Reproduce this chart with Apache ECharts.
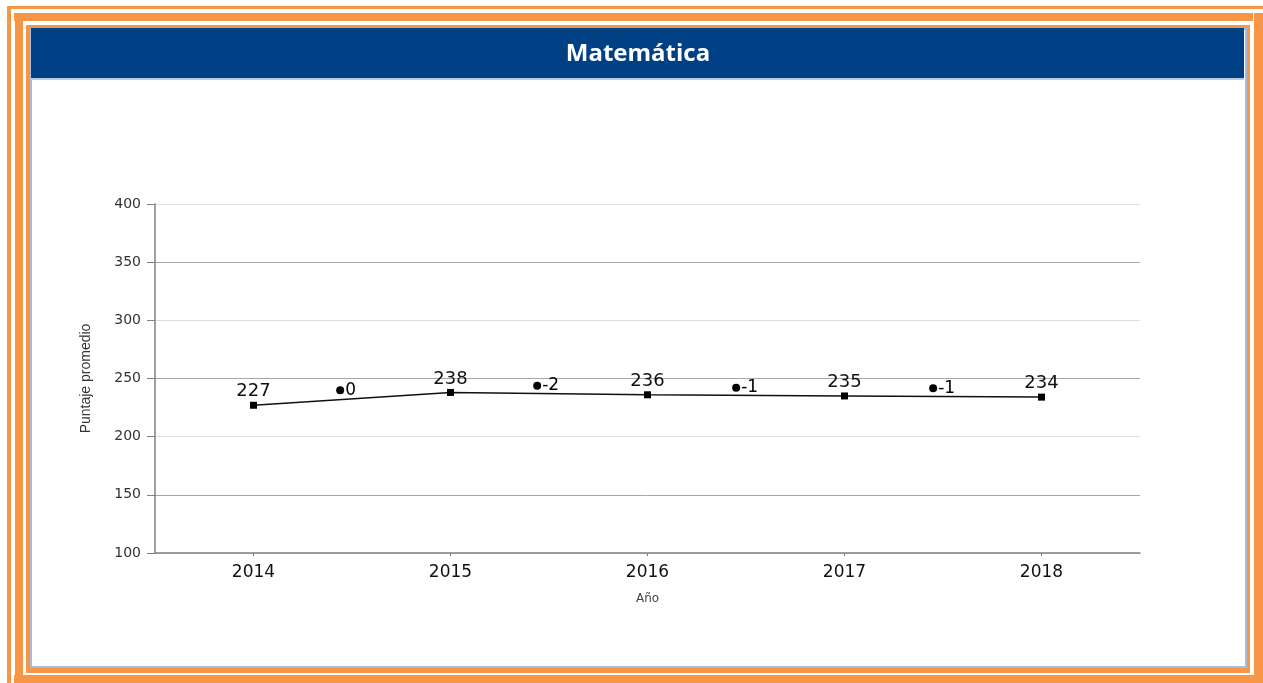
<!DOCTYPE html>
<html>
<head>
<meta charset="utf-8">
<script src="https://cdn.jsdelivr.net/npm/echarts@6/dist/echarts.min.js"></script>
<style>
  html,body{margin:0;padding:0;background:#fff;}
  body{width:1263px;height:683px;position:relative;overflow:hidden;}
  .o{position:absolute;background:#f79646;}
  #panel{position:absolute;left:30px;top:28px;width:1213px;height:636px;border:2px solid #a6bddb;background:#fff;}
  #bar{position:absolute;left:31px;top:28px;width:1213px;height:50px;background:#004185;border-bottom:2px solid #b8cbe4;}
  #chart{position:absolute;left:0;top:0;width:1263px;height:683px;}
</style>
</head>
<body>
<!-- outer thin line -->
<div class="o" style="left:7px;top:6px;width:1256px;height:3px;"></div>
<div class="o" style="left:7px;top:6px;width:4px;height:677px;"></div>
<!-- middle thick frame -->
<div class="o" style="left:14px;top:13px;width:1239px;height:8px;"></div>
<div class="o" style="left:15px;top:13px;width:8px;height:662px;"></div>
<div class="o" style="left:14px;top:675px;width:1249px;height:8px;"></div>
<div class="o" style="left:1254px;top:13px;width:9px;height:670px;"></div>
<!-- inner thin frame -->
<div class="o" style="left:26px;top:25px;width:1223px;height:4px;"></div>
<div class="o" style="left:26px;top:25px;width:4px;height:648px;"></div>
<div class="o" style="left:26px;top:668px;width:1223px;height:5px;"></div>
<div class="o" style="left:1246px;top:25px;width:4px;height:648px;"></div>
<div id="panel"></div>
<div id="bar"></div>
<div id="chart"></div>
<script>
var titleText = 'Matemática';
var years = ['2014', '2015', '2016', '2017', '2018'];
var scores = [227, 238, 236, 235, 234];
var diffX = [0.44, 1.44, 2.45, 3.45];
var diffY = [240, 243.8, 242.1, 241.6];
var diffLabels = ['0', '-2', '-1', '-1'];
var yTicks = [100, 400, 50];
var yName = 'Puntaje promedio';
var xName = 'Año';

var diffData = diffX.map(function (x, i) { return { value: [x, diffY[i]], label: { formatter: diffLabels[i] } }; });

var chart = echarts.init(document.getElementById('chart'), null, { renderer: 'canvas' });
chart.setOption({
  animation: false,
  backgroundColor: 'transparent',
  graphic: [{
    type: 'text', x: 638, y: 54,
    style: { text: titleText, fill: '#ffffff', font: 'bold 24px "Open Sans"', textAlign: 'center', textVerticalAlign: 'middle' }
  }],
  grid: { left: 155, right: 123, top: 204, bottom: 130 },
  xAxis: [{
    type: 'category', data: years, boundaryGap: true,
    name: xName, nameLocation: 'middle', nameGap: 40,
    nameTextStyle: { fontFamily: 'DejaVu Sans', fontSize: 12, color: '#444' },
    axisLine: { onZero: false, lineStyle: { color: '#808080', width: 1.5 } },
    axisTick: { show: true, alignWithLabel: true, length: 3, lineStyle: { color: '#808080' } },
    axisLabel: { fontFamily: 'DejaVu Sans', fontSize: 17, color: '#111', margin: 11 },
    splitLine: { show: false }
  }, {
    type: 'value', min: -0.5, max: 4.5, show: false,
    axisLine: { onZero: false }
  }],
  yAxis: {
    type: 'value', min: yTicks[0], max: yTicks[1], interval: yTicks[2],
    name: yName, nameLocation: 'middle', nameGap: 62, nameRotate: 90,
    nameTextStyle: { fontFamily: '"Liberation Sans Narrow", "Liberation Sans"', fontSize: 14, color: '#333' },
    axisLine: { show: true, onZero: false, lineStyle: { color: '#808080', width: 1.5 } },
    axisTick: { show: true, length: 8, lineStyle: { color: '#808080' } },
    axisLabel: { fontFamily: 'DejaVu Sans', fontSize: 14, color: '#333', margin: 14 },
    splitLine: { show: true, lineStyle: { color: ['#dddddd', '#a6a6a6'], width: 1 } }
  },
  series: [{
    type: 'line', data: scores, xAxisIndex: 0,
    symbol: 'rect', symbolSize: 7, showAllSymbol: true,
    lineStyle: { color: '#111', width: 1.5 },
    itemStyle: { color: '#000' },
    label: { show: true, position: 'top', distance: 1, fontFamily: 'DejaVu Sans', fontSize: 18, color: '#111' },
    z: 3
  }, {
    type: 'scatter', data: diffData, xAxisIndex: 1,
    symbol: 'circle', symbolSize: 8,
    itemStyle: { color: '#000', opacity: 1 },
    label: { show: true, position: 'right', distance: 1, fontFamily: 'DejaVu Sans', fontSize: 17, color: '#000' },
    z: 3
  }]
});
</script>
</body>
</html>
